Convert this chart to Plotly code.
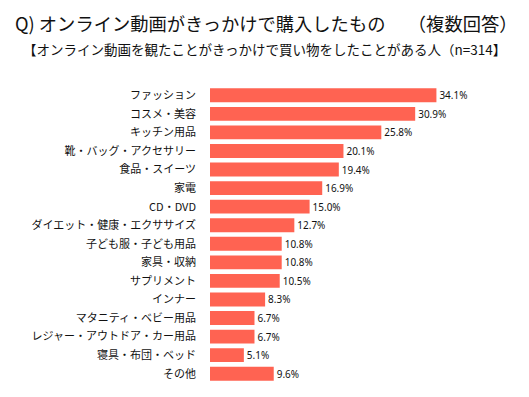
import plotly.graph_objects as go

categories = ["ファッション", "コスメ・美容", "キッチン用品", "靴・バッグ・アクセサリー", "食品・スイーツ",
              "家電", "CD・DVD", "ダイエット・健康・エクササイズ", "子ども服・子ども用品", "家具・収納",
              "サプリメント", "インナー", "マタニティ・ベビー用品", "レジャー・アウトドア・カー用品",
              "寝具・布団・ベッド", "その他"]
values = [34.1, 30.9, 25.8, 20.1, 19.4, 16.9, 15.0, 12.7, 10.8, 10.8, 10.5, 8.3, 6.7, 6.7, 5.1, 9.6]
value_labels = [f"{v:.1f}%" for v in values]

title_text = "Q) オンライン動画がきっかけで購入したもの　 （複数回答）"
subtitle_text = "【オンライン動画を観たことがきっかけで買い物をしたことがある人（n=314】"

# page body has an 8px default margin; figure sized so it ends at the window edge
W, H = 521, 389
ml, mr, mt, mb = 202, 21, 78, 14
pw = W - ml - mr
ph = H - mt - mb
px_per_pct = 6.64

font_jp = "Noto Sans CJK JP"

fig = go.Figure(go.Bar(
    x=values, y=categories, orientation="h",
    marker=dict(color="#FF6352", line=dict(width=0)),
    text=value_labels, textposition="outside",
    textfont=dict(family="Noto Sans, " + font_jp, size=10, color="#111111"),
    cliponaxis=False,
))

fig.update_layout(
    width=W, height=H,
    margin=dict(l=ml, r=mr, t=mt, b=mb),
    paper_bgcolor="white", plot_bgcolor="white",
    bargap=0.25,
    showlegend=False,
    xaxis=dict(range=[0, pw / px_per_pct], visible=False),
    yaxis=dict(autorange="reversed", showline=False, showgrid=False, ticks="",
               ticklabelstandoff=13,
               tickfont=dict(family=font_jp, size=11, color="#111111")),
    annotations=[
        dict(text=title_text, xref="paper", yref="paper",
             x=(5 - ml) / pw, y=(H - mb - 15) / ph, xanchor="left", yanchor="middle",
             showarrow=False, font=dict(family=font_jp, size=18.3, color="#111111")),
        dict(text=subtitle_text, xref="paper", yref="paper",
             x=(13 - ml) / pw, y=(H - mb - 41) / ph, xanchor="left", yanchor="middle",
             showarrow=False, font=dict(family=font_jp, size=13.5, color="#111111")),
    ],
)

fig.write_html("out.html")
